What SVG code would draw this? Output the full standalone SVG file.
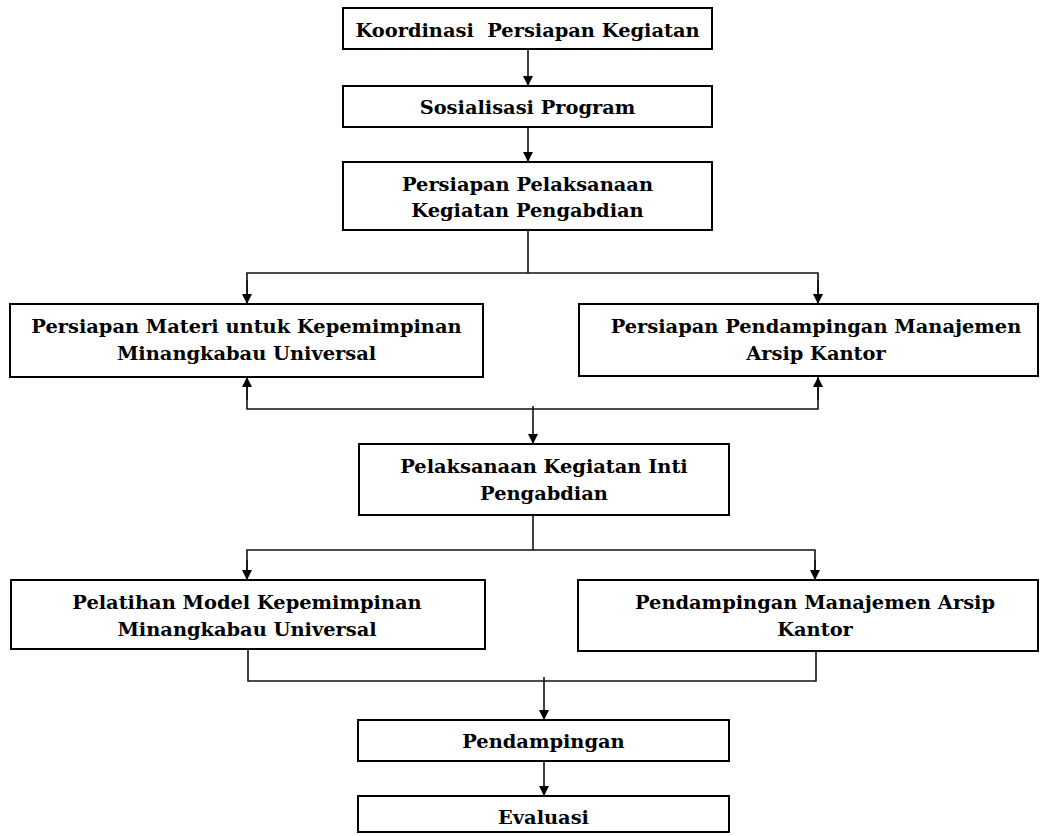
<svg xmlns="http://www.w3.org/2000/svg" width="1044" height="836" viewBox="0 0 1044 836">
<style>
.box{fill:#fff;stroke:#000;stroke-width:2}
.t{font-family:"DejaVu Serif",serif;font-weight:bold;font-size:19.4px;fill:#000;text-anchor:middle}
.c{fill:none;stroke:#111;stroke-width:1.6}
</style>
<defs>
<marker id="ah" viewBox="0 0 10 10" refX="10" refY="5" markerWidth="11" markerHeight="10" markerUnits="userSpaceOnUse" orient="auto">
<path d="M0,0 L10,5 L0,10 z" fill="#000"/>
</marker>
</defs>
<rect width="1044" height="836" fill="#fff"/>
<g id="connectors">
<line class="c" x1="528" y1="49" x2="528" y2="86" marker-end="url(#ah)"/>
<line class="c" x1="528" y1="127" x2="528" y2="162" marker-end="url(#ah)"/>
<path class="c" d="M528,230 V273"/>
<path class="c" d="M247,295 V273 H818 V295" />
<line class="c" x1="247" y1="280" x2="247" y2="304" marker-end="url(#ah)"/>
<line class="c" x1="818" y1="280" x2="818" y2="304" marker-end="url(#ah)"/>
<path class="c" d="M247,385 V409 H818 V385"/>
<line class="c" x1="247" y1="400" x2="247" y2="377" marker-end="url(#ah)"/>
<line class="c" x1="818" y1="400" x2="818" y2="377" marker-end="url(#ah)"/>
<line class="c" x1="533" y1="406" x2="533" y2="444" marker-end="url(#ah)"/>
<path class="c" d="M533,515 V550"/>
<path class="c" d="M247,570 V550 H815 V570"/>
<line class="c" x1="247" y1="560" x2="247" y2="580" marker-end="url(#ah)"/>
<line class="c" x1="815" y1="560" x2="815" y2="580" marker-end="url(#ah)"/>
<path class="c" d="M248,649 V681 H816 V651"/>
<line class="c" x1="544" y1="677" x2="544" y2="720" marker-end="url(#ah)"/>
<line class="c" x1="544" y1="761" x2="544" y2="796" marker-end="url(#ah)"/>
</g>
<g id="n1"><rect class="box" x="343" y="8" width="369" height="41"/><text class="t" x="527.5" y="37" xml:space="preserve">Koordinasi  Persiapan Kegiatan</text></g>
<g id="n2"><rect class="box" x="343" y="86" width="369" height="41"/><text class="t" x="527.5" y="114">Sosialisasi Program</text></g>
<g id="n3"><rect class="box" x="343" y="162" width="369" height="68"/><text class="t" x="527.5" y="191">Persiapan Pelaksanaan</text><text class="t" x="527.5" y="217">Kegiatan Pengabdian</text></g>
<g id="n4"><rect class="box" x="10" y="304" width="473" height="73"/><text class="t" x="246.5" y="333">Persiapan Materi untuk Kepemimpinan</text><text class="t" x="246.5" y="360">Minangkabau Universal</text></g>
<g id="n5"><rect class="box" x="579" y="304" width="459" height="72"/><text class="t" x="816" y="333">Persiapan Pendampingan Manajemen</text><text class="t" x="816" y="360">Arsip Kantor</text></g>
<g id="n6"><rect class="box" x="359" y="444" width="370" height="71"/><text class="t" x="544" y="473">Pelaksanaan Kegiatan Inti</text><text class="t" x="544" y="500">Pengabdian</text></g>
<g id="n7"><rect class="box" x="11" y="580" width="474" height="69"/><text class="t" x="247" y="609">Pelatihan Model Kepemimpinan</text><text class="t" x="247" y="636">Minangkabau Universal</text></g>
<g id="n8"><rect class="box" x="578" y="580" width="460" height="71"/><text class="t" x="815" y="609">Pendampingan Manajemen Arsip</text><text class="t" x="815" y="636">Kantor</text></g>
<g id="n9"><rect class="box" x="358" y="720" width="371" height="41"/><text class="t" x="543.5" y="748">Pendampingan</text></g>
<g id="n10"><rect class="box" x="358" y="796" width="371" height="36"/><text class="t" x="543.5" y="824">Evaluasi</text></g>
</svg>
